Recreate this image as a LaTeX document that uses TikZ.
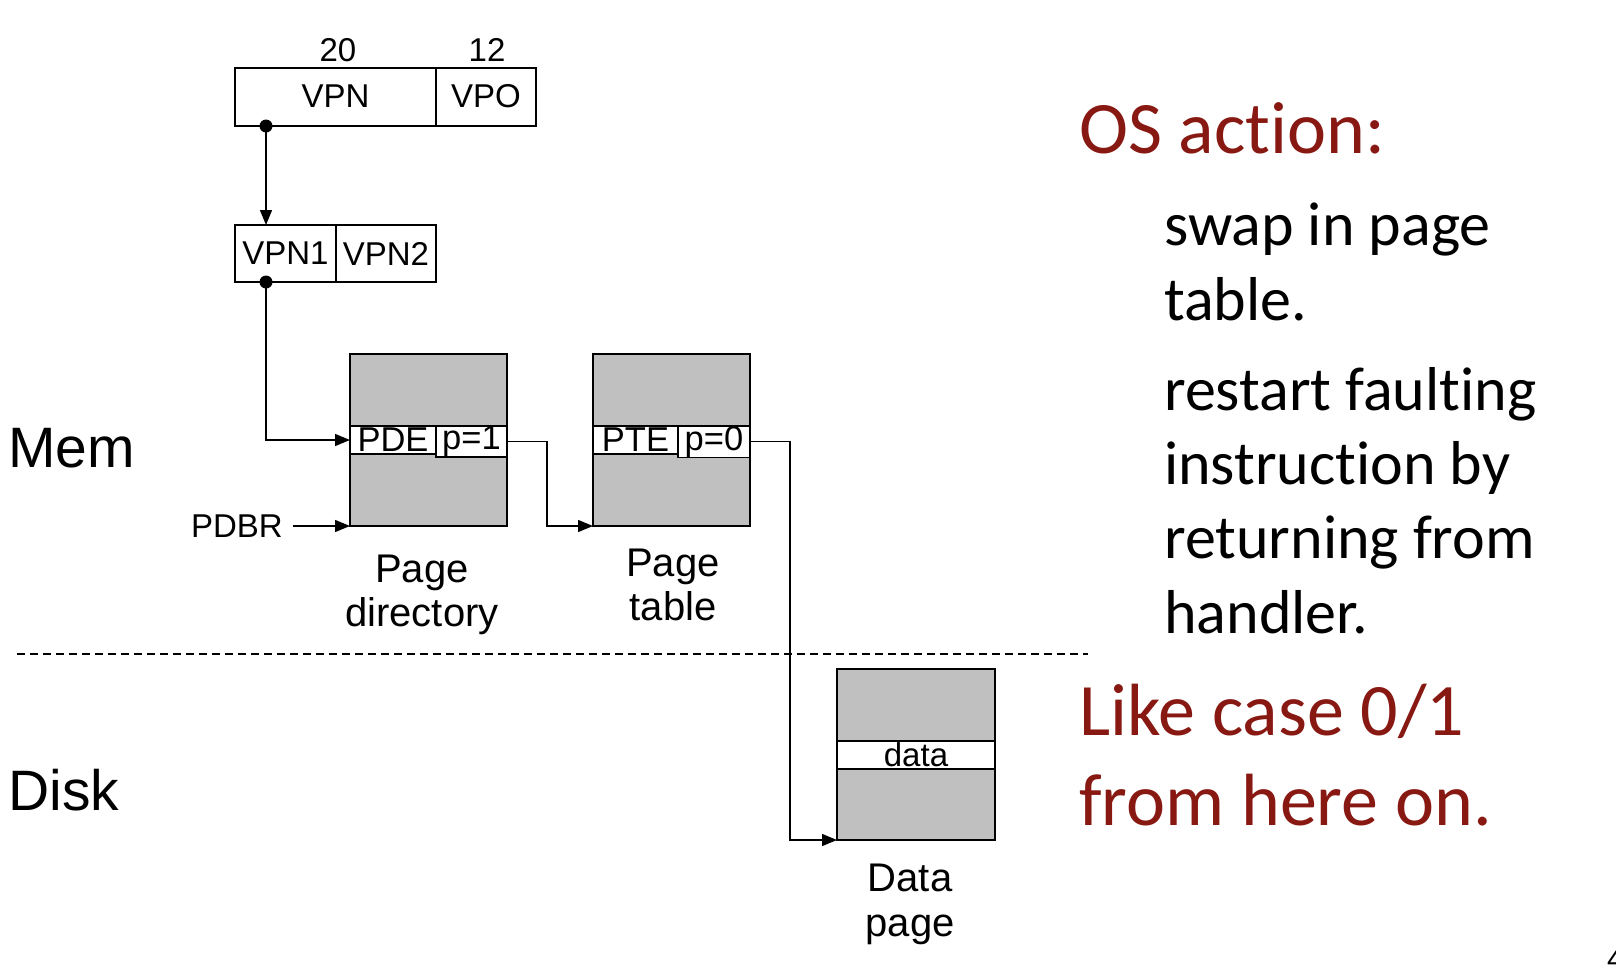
\documentclass[tikz,border=0pt]{standalone}
\usepackage{fontspec}
\setmainfont{Liberation Sans}
\newfontfamily\slidefont[Ligatures=NoCommon]{Carlito}
\usetikzlibrary{arrows.meta}
\definecolor{osred}{RGB}{136,24,18}
\definecolor{pagegray}{RGB}{192,192,192}
\begin{document}
\begin{tikzpicture}[x=1pt,y=-1pt,
  cell/.style={draw=black, line width=1.5pt, inner sep=0pt, outer sep=0pt,
    anchor=north west, font=\fontsize{33}{40}\selectfont},
  pagebox/.style={cell, fill=pagegray},
  rowcell/.style={cell, fill=white, font=\fontsize{34.5}{40}\selectfont},
  conn/.style={line width=1.4pt},
  arr/.style={-{Triangle[length=15pt,width=12pt]}},
  small/.style={inner sep=0pt, font=\fontsize{33}{40}\selectfont},
  caption/.style={inner sep=0pt, anchor=base, font=\fontsize{40}{44}\selectfont},
  side/.style={inner sep=0pt, anchor=base west, font=\fontsize{57}{62}\selectfont},
  head/.style={inner sep=0pt, anchor=base west, text=osred, font=\slidefont\fontsize{74}{88}\selectfont},
  body/.style={inner sep=0pt, anchor=base west, font=\slidefont\fontsize{62}{75}\selectfont},
  sep/.style={line width=1.3pt, dash pattern=on 8pt off 5pt}
]
\useasboundingbox (0,0) rectangle (1616,964);

% virtual address
\node[small] (n20) at (338,50) {20};
\node[small] (n12) at (487,50) {12};
\node[cell, minimum width=201pt, minimum height=58pt] (vpn) at (235,68) {\raisebox{2pt}{VPN}};
\node[cell, minimum width=100pt, minimum height=58pt] (vpo) at (436,68) {\raisebox{2pt}{VPO}};

% split VPN
\node[cell, minimum width=101pt, minimum height=57pt] (vpn1) at (235,225) {VPN1};
\node[cell, minimum width=100pt, minimum height=57pt] (vpn2) at (336,225) {VPN2};

% page directory
\node[pagebox, minimum width=157pt, minimum height=172pt] (pd) at (350,354) {};
\node[rowcell, minimum width=86pt, minimum height=28pt] (pde) at (350,426) {PDE};
\node[rowcell, minimum width=71pt, minimum height=28pt] (pdp) at (436,426) {p=1};

% page table
\node[pagebox, minimum width=157pt, minimum height=172pt] (pt) at (593,354) {};
\node[rowcell, minimum width=85pt, minimum height=28pt] (pte) at (593,426) {PTE};
\node[rowcell, minimum width=72pt, minimum height=28pt] (ptp) at (678,426) {p=0};

% data page on disk
\node[pagebox, minimum width=158pt, minimum height=171pt] (dp) at (837,669) {};
\node[rowcell, minimum width=158pt, minimum height=28pt, font=\fontsize{33}{40}\selectfont] (drow) at (837,741) {data};

% captions
\node[caption] (pdcap1) at (422,582) {Page};
\node[caption] (pdcap2) at (422,626) {directory};
\node[caption] (ptcap1) at (673,576) {Page};
\node[caption] (ptcap2) at (673,620) {table};
\node[caption] (dpcap1) at (910,891) {Data};
\node[caption] (dpcap2) at (910,936) {page};
\node[small, anchor=east] (pdbr) at (283,526) {PDBR};

% region labels
\node[side] (mem) at (8,467) {Mem};
\node[side] (disk) at (8,810) {Disk};
\coordinate (sepL) at (17,654);
\coordinate (sepR) at (1088,654);
\draw[sep] (sepL) -- (sepR);

% connectors
\coordinate (d1) at (266,126);
\coordinate (d2) at (266,282);
\draw[conn, arr] (d1) -- (d1 |- vpn1.north);
\draw[conn, arr] (d2) |- (pde.west);
\fill (d1) circle (6.5pt);
\fill (d2) circle (6.5pt);
\draw[conn, arr] (pdbr.east) ++(10,0) -- (pd.south west);
\draw[conn, arr] (pdp.east) -- ++(40,0) |- (pt.south west);
\draw[conn, arr] (ptp.east) -- ++(40,0) |- (dp.south west);

% explanation text
\node[head] (os) at (1079,153) {OS action:};
\node[body] (b1) at (1164,245) {swap in page};
\node[body] (b2) at (1164,320) {table.};
\node[body] (b3) at (1164,410) {restart faulting};
\node[body] (b4) at (1164,484) {instruction by};
\node[body] (b5) at (1164,558) {returning from};
\node[body] (b6) at (1164,633) {handler.};
\node[head] (like1) at (1079,735) {Like case 0/1};
\node[head] (like2) at (1079,825) {from here on.};

% slide number at the corner
\node[inner sep=0pt, anchor=base west, font=\fontsize{30}{36}\selectfont] (pnum) at (1607,969) {4};
\end{tikzpicture}
\end{document}
